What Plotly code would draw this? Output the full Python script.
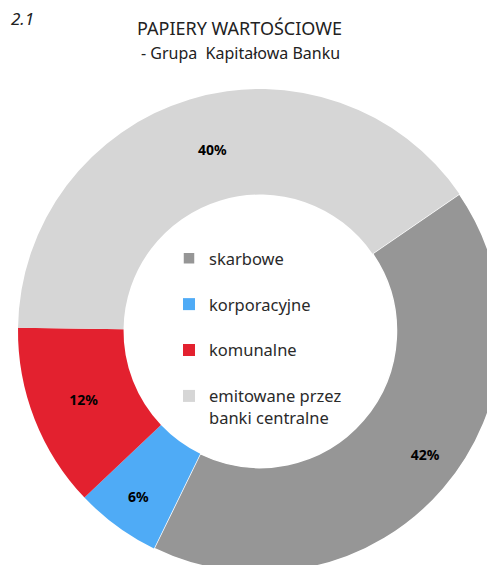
import plotly.graph_objects as go

categories = ["skarbowe", "korporacyjne", "komunalne", "emitowane przez<br>banki centralne"]
values = [41.8, 5.7, 12.3, 40.2]
colors = ["#969696", "#4fabf6", "#e3212f", "#d6d6d6"]
pct_labels = ["42%", "6%", "12%", "40%"]
# label padding (non-breaking spaces) to nudge labels like the original layout
label_pad = [12, 0, 0, 4]

legend_names = [c + "<br> " if "<br>" not in c else c for c in categories]
slice_text = ["\u00a0" * p + t for p, t in zip(label_pad, pct_labels)]

W, H = 495, 565
ML, MT, MR, MB = 10, 81, 1, 0
PW, PH = W - ML - MR, H - MT - MB


def px(x):
    return (x - ML) / PW


def py(y):
    return 1 - (y - MT) / PH


fig = go.Figure(go.Pie(
    labels=legend_names,
    values=values,
    text=slice_text,
    textinfo="text",
    textposition="inside",
    insidetextorientation="horizontal",
    textfont=dict(family="Noto Sans", size=14, color="#000000", weight="bold"),
    marker=dict(colors=colors, line=dict(color="#ffffff", width=[1.5, 0, 0, 0])),
    hole=0.564,
    sort=False,
    direction="clockwise",
    rotation=55.5,
    hoverinfo="label+percent",
))

fig.update_layout(
    width=W, height=H,
    margin=dict(l=ML, r=MR, t=MT, b=MB),
    paper_bgcolor="#ffffff",
    showlegend=True,
    legend=dict(x=px(161), y=py(233), xanchor="left", yanchor="top", valign="top",
                font=dict(family="Noto Sans", size=16.5, color="#2a2a2a"),
                bgcolor="rgba(0,0,0,0)"),
    annotations=[
        dict(text="PAPIERY WARTOŚCIOWE", x=px(231), y=py(20), xref="paper", yref="paper",
             xanchor="center", yanchor="middle", showarrow=False,
             font=dict(family="Noto Sans", size=18, color="#222222")),
        dict(text="- Grupa  Kapitałowa Banku", x=px(232), y=py(45), xref="paper", yref="paper",
             xanchor="center", yanchor="middle", showarrow=False,
             font=dict(family="Noto Sans", size=16, color="#222222")),
        dict(text="<i>2.1</i>", xref="paper", yref="paper", x=px(1), y=py(10),
             xanchor="left", yanchor="middle", showarrow=False,
             font=dict(family="Noto Sans", size=17, color="#222222")),
    ],
)

fig.write_html("out.html")
